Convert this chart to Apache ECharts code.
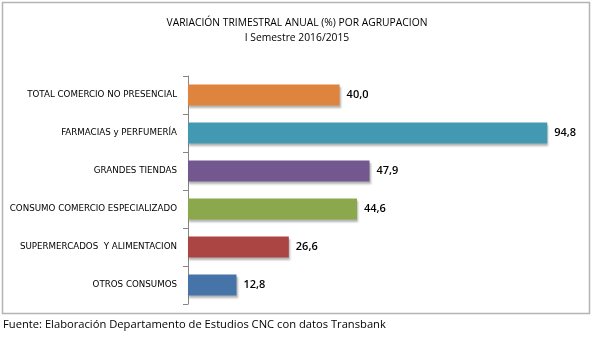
<!DOCTYPE html>
<html><head><meta charset="utf-8">
<script src="https://cdn.jsdelivr.net/npm/echarts@6/dist/echarts.min.js"></script>
<style>html,body{margin:0;padding:0;background:#fff}#c{width:594px;height:339px}</style>
</head><body><div id="c"></div>
<script>
const categories = ["TOTAL COMERCIO NO PRESENCIAL","FARMACIAS y PERFUMERÍA","GRANDES TIENDAS","CONSUMO COMERCIO ESPECIALIZADO","SUPERMERCADOS  Y ALIMENTACION","OTROS CONSUMOS"];
const values = [40.0, 94.8, 47.9, 44.6, 26.6, 12.8];
const colors = ["#DE843E","#4299B1","#72588E","#8BA84D","#AB4544","#4673A8"];
const titleText = "VARIACIÓN TRIMESTRAL ANUAL (%) POR AGRUPACION";
const subtitleText = "I Semestre 2016/2015";
const sourceText = "Fuente: Elaboración Departamento de Estudios CNC con datos Transbank";

const chart = echarts.init(document.getElementById('c'), null, {renderer:'canvas'});
chart.setOption({
  animation:false,
  title:{text:titleText, subtext:subtitleText, left:'center', top:13, itemGap:5,
    textStyle:{fontFamily:'Open Sans', fontSize:10.3, fontWeight:'normal', color:'#000'},
    subtextStyle:{fontFamily:'Open Sans', fontSize:10.3, color:'#000'}},
  graphic:[
    {type:'rect', shape:{x:2.5,y:2.5,width:587,height:311}, style:{fill:'none', stroke:'#b4b4b4', lineWidth:1.5}, z:-1},
    {type:'text', left:3, top:319, style:{text:sourceText, font:'11.2px "Open Sans"', fill:'#000'}}
  ],
  grid:{left:188, top:76, width:379, height:228, containLabel:false},
  xAxis:{type:'value', min:0, max:100, show:false},
  yAxis:{type:'category', inverse:true, data:categories,
    axisLine:{show:true, lineStyle:{color:'#868686', width:1}},
    axisTick:{show:true, inside:false, length:5, lineStyle:{color:'#868686'}},
    axisLabel:{fontFamily:'DejaVu Sans', fontSize:8.7, color:'#000', margin:11}},
  series:[{type:'bar', data:values.map((v,i)=>({value:v, itemStyle:{color:colors[i]}})),
    barWidth:21,
    itemStyle:{shadowColor:'rgba(0,0,0,0.3)', shadowBlur:2, shadowOffsetY:2, shadowOffsetX:1},
    label:{show:true, position:'right', distance:7, fontFamily:'Open Sans', fontSize:11, fontWeight:'600', color:'#000',
      formatter:p=>p.value.toFixed(1).replace('.',',')}}]
});
</script></body></html>
